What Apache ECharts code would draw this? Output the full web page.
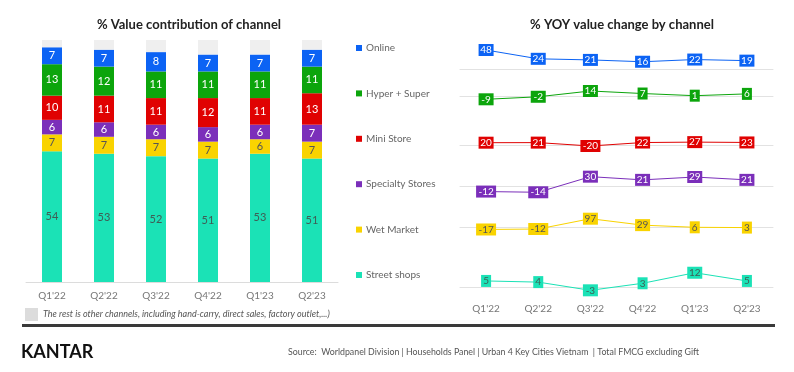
<!DOCTYPE html>
<html><head><meta charset="utf-8">
<script src="https://cdn.jsdelivr.net/npm/echarts@6/dist/echarts.min.js"></script>
<style>html,body{margin:0;padding:0;background:#fff}#c{width:794px;height:372px}</style>
</head><body><div id="c"></div>
<script>
const quarters = ["Q1'22","Q2'22","Q3'22","Q4'22","Q1'23","Q2'23"];
const channels = ["Online","Hyper + Super","Mini Store","Specialty Stores","Wet Market","Street shops"];

// % value contribution (stacked bars)
const shareOnline    = [7,7,8,7,7,7];
const shareHyper     = [13,12,11,11,11,11];
const shareMini      = [10,11,11,12,11,13];
const shareSpecialty = [6,6,6,6,6,7];
const shareWet       = [7,7,7,7,6,7];
const shareStreet    = [54,53,52,51,53,51];
const shareRest      = [3,4,5,6,6,4];

// % YOY value change (lines)
const yoyOnline    = [48,24,21,16,22,19];
const yoyHyper     = [-9,-2,14,7,1,6];
const yoyMini      = [20,21,-20,22,27,23];
const yoySpecialty = [-12,-14,30,21,29,21];
const yoyWet       = [-17,-12,97,29,6,3];
const yoyStreet    = [5,4,-3,3,12,5];

const colors = {
  "Online":"#0c63f4","Hyper + Super":"#0ca50c","Mini Store":"#e00202",
  "Specialty Stores":"#7b2fba","Wet Market":"#f9d300","Street shops":"#1be2b6"
};
const labelColor = {
  "Online":"#fff","Hyper + Super":"#fff","Mini Store":"#fff",
  "Specialty Stores":"#fff","Wet Market":"#555","Street shops":"#3f5d55"
};
const FONT = "Lato";

const shareData = {
  "Street shops":shareStreet,"Wet Market":shareWet,"Specialty Stores":shareSpecialty,
  "Mini Store":shareMini,"Hyper + Super":shareHyper,"Online":shareOnline
};
const yoyData = [yoyOnline,yoyHyper,yoyMini,yoySpecialty,yoyWet,yoyStreet];

// layout of the six small line panels: [top, baseline(bottom), yMin, yMax]
const panels = [
  [45, 69, -3.8, 61.7],
  [75, 96, 0.14, 58.3],
  [120, 145, -7.9, 295],
  [165, 186, 3.7, 62.9],
  [205, 227.7, 1.8, 242],
  [265, 287.7, -0.77, 18.6]
];

const grids = [{left:26, right:456, top:40, bottom:90}];
const xAxes = [{
  type:'category', data:quarters, gridIndex:0,
  axisLine:{lineStyle:{color:'#dcdcdc'}},
  axisTick:{length:3, lineStyle:{color:'#dcdcdc'}},
  axisLabel:{color:'#777', fontSize:10, fontFamily:FONT, margin:9}
}];
const yAxes = [{type:'value', gridIndex:0, min:0, max:100, show:false}];
const series = [];

const stackOrder = ["Street shops","Wet Market","Specialty Stores","Mini Store","Hyper + Super","Online"];
stackOrder.forEach(name => {
  series.push({
    name, type:'bar', stack:'share', xAxisIndex:0, yAxisIndex:0, barWidth:20,
    data: shareData[name],
    itemStyle:{color:colors[name]},
    label:{show:true, position:'inside', color:labelColor[name], fontSize:11, fontFamily:FONT},
    emphasis:{disabled:true}
  });
});
series.push({
  name:'Rest', type:'bar', stack:'share', xAxisIndex:0, yAxisIndex:0, barWidth:20,
  data: shareRest, itemStyle:{color:'#efefef'}, label:{show:false}, emphasis:{disabled:true}
});

panels.forEach((p, i) => {
  const gi = i + 1;
  grids.push({left:460, right:21, top:p[0], bottom:372 - p[1]});
  xAxes.push({
    type:'category', data:quarters, gridIndex:gi,
    axisLine:{onZero:false, lineStyle:{color:'#e2e2e2'}},
    axisTick:{length:3, lineStyle:{color:'#e2e2e2'}},
    axisLabel:{show: i === 5, color:'#777', fontSize:10, fontFamily:FONT, margin:16}
  });
  yAxes.push({type:'value', gridIndex:gi, min:p[2], max:p[3], show:false});
  const name = channels[i];
  series.push({
    name, type:'line', xAxisIndex:gi, yAxisIndex:gi, data:yoyData[i],
    clip:false, symbol:'rect',
    symbolSize:(v)=>[5 + 5*String(v).length, 12],
    itemStyle:{color:colors[name]},
    lineStyle:{color:colors[name], width:1},
    label:{show:true, position:'inside', color:labelColor[name], fontSize:10, fontFamily:FONT},
    emphasis:{disabled:true}, z:3
  });
});

const chart = echarts.init(document.getElementById('c'), null, {renderer:'canvas'});
chart.setOption({
  animation:false,
  backgroundColor:'#fff',
  textStyle:{fontFamily:FONT},
  title:[
    {text:'% Value contribution of channel', left:184, top:13, textAlign:'center',
     textStyle:{fontSize:13, fontWeight:'bold', color:'#222', fontFamily:FONT}},
    {text:'% YOY value change by channel', left:617, top:13, textAlign:'center',
     textStyle:{fontSize:13, fontWeight:'bold', color:'#222', fontFamily:FONT}}
  ],
  legend:{
    data:channels, orient:'vertical', left:356, top:42, padding:0,
    icon:'rect', itemWidth:6, itemHeight:6, itemGap:33.4,
    textStyle:{fontSize:10, color:'#666', fontFamily:FONT, lineHeight:12, padding:[0,0,0,-1]}
  },
  grid:grids, xAxis:xAxes, yAxis:yAxes, series,
  graphic:[
    {type:'rect', left:25, top:308, shape:{width:13, height:13}, style:{fill:'#dcdcdc'}},
    {type:'text', left:43, top:310, style:{text:'The rest is other channels, including hand-carry, direct sales, factory outlet,...)',
      fontSize:9, fontStyle:'italic', fill:'#555', fontFamily:FONT}},
    {type:'rect', left:22, top:324, shape:{width:753, height:3}, style:{fill:'#3a3a3a'}},
    {type:'text', left:21, top:343, style:{text:'KANTAR', fontSize:18, fontWeight:'bold', fill:'#111', fontFamily:FONT}},
    {type:'text', left:288, top:348, style:{text:'Source:  Worldpanel Division | Households Panel | Urban 4 Key Cities Vietnam  | Total FMCG excluding Gift',
      fontSize:8.8, fill:'#555', fontFamily:FONT}}
  ]
});
</script></body></html>
